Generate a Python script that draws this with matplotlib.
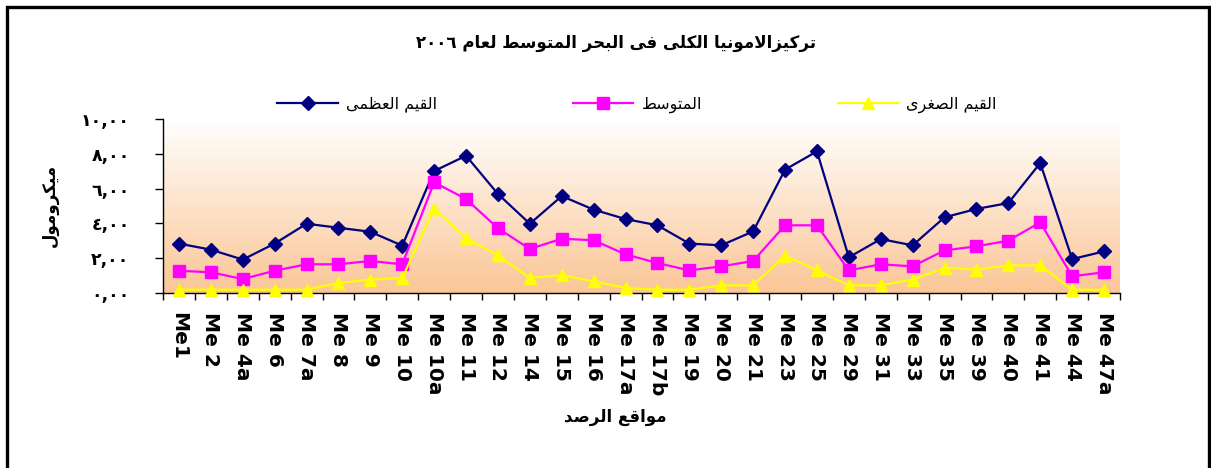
import numpy as np
import matplotlib
matplotlib.use('Agg')
import matplotlib.pyplot as plt
from matplotlib.patches import Rectangle

# ---------------- data ----------------
stations = ['Me1', 'Me 2', 'Me 4a', 'Me 6', 'Me 7a', 'Me 8', 'Me 9', 'Me 10',
            'Me 10a', 'Me 11', 'Me 12', 'Me 14', 'Me 15', 'Me 16', 'Me 17a',
            'Me 17b', 'Me 19', 'Me 20', 'Me 21', 'Me 23', 'Me 25', 'Me 29',
            'Me 31', 'Me 33', 'Me 35', 'Me 39', 'Me 40', 'Me 41', 'Me 44', 'Me 47a']
max_vals = [2.84, 2.49, 1.92, 2.84, 3.98, 3.75, 3.52, 2.72, 7.01, 7.89,
            5.69, 3.98, 5.57, 4.79, 4.25, 3.89, 2.84, 2.74, 3.54, 7.09,
            8.14, 2.05, 3.10, 2.74, 4.35, 4.83, 5.17, 7.47, 1.95, 2.39]
mean_vals = [1.28, 1.19, 0.80, 1.28, 1.65, 1.65, 1.84, 1.65, 6.36, 5.40,
             3.72, 2.53, 3.12, 3.03, 2.22, 1.72, 1.30, 1.53, 1.84, 3.89,
             3.89, 1.30, 1.65, 1.53, 2.45, 2.68, 3.01, 4.06, 0.96, 1.19]
min_vals = [0.19, 0.19, 0.19, 0.19, 0.19, 0.57, 0.77, 0.86, 4.85, 3.16,
            2.16, 0.86, 1.02, 0.67, 0.29, 0.19, 0.19, 0.44, 0.44, 2.15,
            1.30, 0.44, 0.44, 0.77, 1.44, 1.34, 1.59, 1.59, 0.19, 0.19]
yticks = [0, 2, 4, 6, 8, 10]
series_labels = ['القيم العظمى', 'المتوسط', 'القيم الصغرى']
title_text = 'تركيزالامونيا الكلى فى البحر المتوسط لعام ٢٠٠٦'
ylabel_text = 'ميكرومول'
xlabel_text = 'مواقع الرصد'

# ---------------- minimal Arabic shaping (presentation forms, visual order) ----------------
FORMS = {
    '\u0627': ('\uFE8D', '\uFE8E', None, None),
    '\u0628': ('\uFE8F', '\uFE90', '\uFE91', '\uFE92'),
    '\u062A': ('\uFE95', '\uFE96', '\uFE97', '\uFE98'),
    '\u062D': ('\uFEA1', '\uFEA2', '\uFEA3', '\uFEA4'),
    '\u062F': ('\uFEA9', '\uFEAA', None, None),
    '\u0631': ('\uFEAD', '\uFEAE', None, None),
    '\u0632': ('\uFEAF', '\uFEB0', None, None),
    '\u0633': ('\uFEB1', '\uFEB2', '\uFEB3', '\uFEB4'),
    '\u0635': ('\uFEB9', '\uFEBA', '\uFEBB', '\uFEBC'),
    '\u0637': ('\uFEC1', '\uFEC2', '\uFEC3', '\uFEC4'),
    '\u0638': ('\uFEC5', '\uFEC6', '\uFEC7', '\uFEC8'),
    '\u0639': ('\uFEC9', '\uFECA', '\uFECB', '\uFECC'),
    '\u063A': ('\uFECD', '\uFECE', '\uFECF', '\uFED0'),
    '\u0641': ('\uFED1', '\uFED2', '\uFED3', '\uFED4'),
    '\u0642': ('\uFED5', '\uFED6', '\uFED7', '\uFED8'),
    '\u0643': ('\uFED9', '\uFEDA', '\uFEDB', '\uFEDC'),
    '\u0644': ('\uFEDD', '\uFEDE', '\uFEDF', '\uFEE0'),
    '\u0645': ('\uFEE1', '\uFEE2', '\uFEE3', '\uFEE4'),
    '\u0646': ('\uFEE5', '\uFEE6', '\uFEE7', '\uFEE8'),
    '\u0648': ('\uFEED', '\uFEEE', None, None),
    '\u0649': ('\uFEEF', '\uFEF0', None, None),
    '\u064A': ('\uFEF1', '\uFEF2', '\uFEF3', '\uFEF4'),
}


def shape_ar(text):
    chars = list(text)
    n = len(chars)
    out = []
    i = 0
    while i < n:
        c = chars[i]
        if c not in FORMS:
            out.append(c)
            i += 1
            continue
        prev = chars[i - 1] if i > 0 else ''
        conn_prev = prev in FORMS and FORMS[prev][2] is not None
        nxt = chars[i + 1] if i + 1 < n else ''
        if c == '\u0644' and nxt == '\u0627':
            out.append('\uFEFC' if conn_prev else '\uFEFB')
            i += 2
            continue
        conn_next = FORMS[c][2] is not None and nxt in FORMS
        iso, fin, ini, med = FORMS[c]
        if conn_prev and conn_next:
            out.append(med)
        elif conn_prev:
            out.append(fin)
        elif conn_next:
            out.append(ini)
        else:
            out.append(iso)
        i += 1
    # visual order: reverse, keeping digit runs left-to-right
    rev = out[::-1]
    res = []
    run = []
    for ch in rev:
        if ch.isdigit():
            run.append(ch)
        else:
            if run:
                res.extend(run[::-1])
                run = []
            res.append(ch)
    if run:
        res.extend(run[::-1])
    return ''.join(res)


AR_DIGITS = str.maketrans('0123456789', '٠١٢٣٤٥٦٧٨٩')


def ar_num(v):
    return ('%d,00' % v).translate(AR_DIGITS)


# ---------------- figure ----------------
plt.rcParams['font.family'] = ['DejaVu Sans']
fig = plt.figure(figsize=(12.11, 4.68), dpi=100)
W, H = 1211.0, 468.0
ax = fig.add_axes([163 / W, 1 - 293 / H, (1120 - 163) / W, (293 - 119) / H])

n = len(stations)
x = np.arange(n) + 0.5

# gradient background
grad = np.linspace(0, 1, 256).reshape(-1, 1)
c_top = np.array([1.0, 1.0, 1.0])
c_bot = np.array([250, 198, 150]) / 255.0
img = c_top[None, None, :] * (1 - grad[..., None]) + c_bot[None, None, :] * grad[..., None]
ax.imshow(img, extent=(0, n, 0, 10), aspect='auto', origin='upper', zorder=0)

l1, = ax.plot(x, max_vals, color='#000080', lw=1.6, marker='D', ms=7.5,
              mfc='#000080', mec='#000080', zorder=3, clip_on=False)
l2, = ax.plot(x, mean_vals, color='#FF00FF', lw=1.6, marker='s', ms=8,
              mfc='#FF00FF', mec='#FF00FF', zorder=3, clip_on=False)
l3, = ax.plot(x, min_vals, color='#FFFF00', lw=1.6, marker='^', ms=9,
              mfc='#FFFF00', mec='#FFFF00', zorder=3, clip_on=False)

ax.set_xlim(0, n)
ax.set_ylim(0, 10)
for s in ['top', 'right']:
    ax.spines[s].set_visible(False)
for s in ['left', 'bottom']:
    ax.spines[s].set_color('black')
    ax.spines[s].set_linewidth(1.0)

ax.set_yticks(yticks)
ax.set_yticklabels([ar_num(v) for v in yticks], fontsize=12.5, fontweight='bold')
ax.tick_params(axis='y', direction='out', length=6, width=1, pad=18)

ax.set_xticks(np.arange(n + 1))
ax.set_xticklabels([])
ax.tick_params(axis='x', which='major', direction='out', length=5, width=1)
ax.set_xticks(x, minor=True)
ax.set_xticklabels(stations, minor=True, rotation=270, fontsize=14.5,
                   fontweight='bold', ha='center', va='top')
ax.tick_params(axis='x', which='minor', length=0, pad=14)

# titles / labels
fig.text(616 / W, 1 - 43 / H, shape_ar(title_text), ha='center', va='center',
         fontsize=12, fontweight='bold')
fig.text(50 / W, 1 - 205 / H, shape_ar(ylabel_text), ha='center', va='center',
         rotation=90, fontsize=12, fontweight='bold')
fig.text(615 / W, 1 - 417 / H, shape_ar(xlabel_text), ha='center', va='center',
         fontsize=12, fontweight='bold')

fig.legend([l1, l2, l3], [shape_ar(s) for s in series_labels], ncol=3,
           loc='center', bbox_to_anchor=(637 / W, 1 - 105 / H), frameon=False,
           fontsize=11.5, handlelength=3.8, handletextpad=0.5, columnspacing=8.5)

# outer border
fig.patches.append(Rectangle((7 / W, -0.1), (1209 - 7) / W, 1.1 - 7 / H,
                             transform=fig.transFigure, fill=False,
                             edgecolor='black', lw=2.4, zorder=10))

fig.savefig('out.png', dpi=100)
